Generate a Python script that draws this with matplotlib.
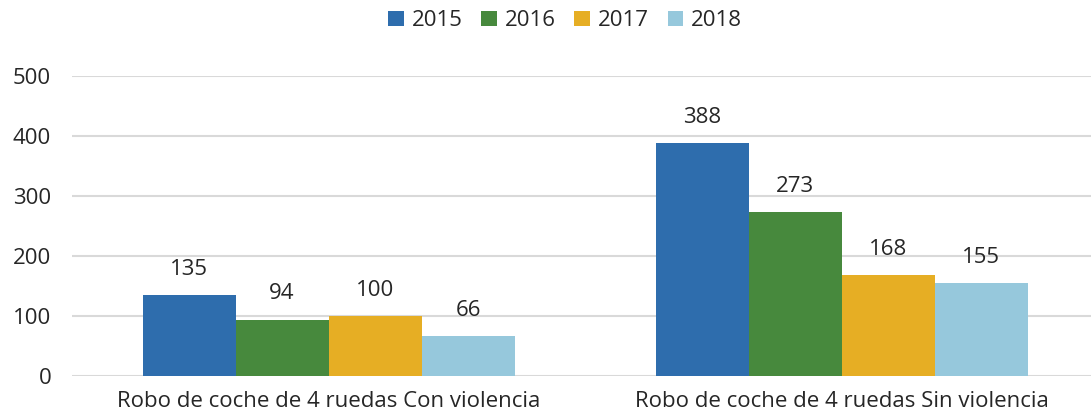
import numpy as np
import matplotlib.pyplot as plt
from matplotlib.patches import Patch

categories = ['Robo de coche de 4 ruedas Con violencia',
              'Robo de coche de 4 ruedas Sin violencia']
years = ['2015', '2016', '2017', '2018']
values = {
    '2015': [135, 388],
    '2016': [94, 273],
    '2017': [100, 168],
    '2018': [66, 155],
}
colors = ['#2E6DAD', '#47893D', '#E6AE24', '#96C8DC']

plt.rcParams['font.family'] = ['Open Sans', 'DejaVu Sans']
text_color = '#262626'
fs = 16

fig = plt.figure(figsize=(10.91, 4.19), dpi=100)
ax = fig.add_axes([72 / 1091, 43 / 419, 1 - 72 / 1091, 300 / 419])

x = np.arange(len(categories))
width = 93 / 513
for i, (yr, col) in enumerate(zip(years, colors)):
    offs = (i - 1.5) * width
    bars = ax.bar(x + offs, values[yr], width, color=col, zorder=3)
    for b, v in zip(bars, values[yr]):
        ax.annotate(str(v), (b.get_x() + b.get_width() / 2, v),
                    xytext=(0, 11), textcoords='offset points',
                    ha='center', va='bottom', fontsize=fs, color=text_color)

ax.set_xlim(-0.5, 1.486)
ax.set_ylim(0, 500)
ax.set_yticks([0, 100, 200, 300, 400, 500])
ax.yaxis.grid(True, color='#D9D9D9', linewidth=1.5, zorder=0)
ax.set_xticks(x)
ax.set_xticklabels(categories)
ax.tick_params(axis='both', length=0, labelsize=fs, labelcolor=text_color)
ax.tick_params(axis='y', pad=15)
ax.tick_params(axis='x', pad=11)
for s in ax.spines.values():
    s.set_visible(False)

handles = [Patch(facecolor=c, label=y) for y, c in zip(years, colors)]
fig.legend(handles=handles, loc='center', bbox_to_anchor=(565 / 1091, 1 - 21 / 419),
           ncol=4, frameon=False, fontsize=fs, handlelength=0.7, handleheight=0.7,
           handletextpad=0.35, columnspacing=0.85, labelcolor=text_color)

fig.savefig('out.png', dpi=100)
